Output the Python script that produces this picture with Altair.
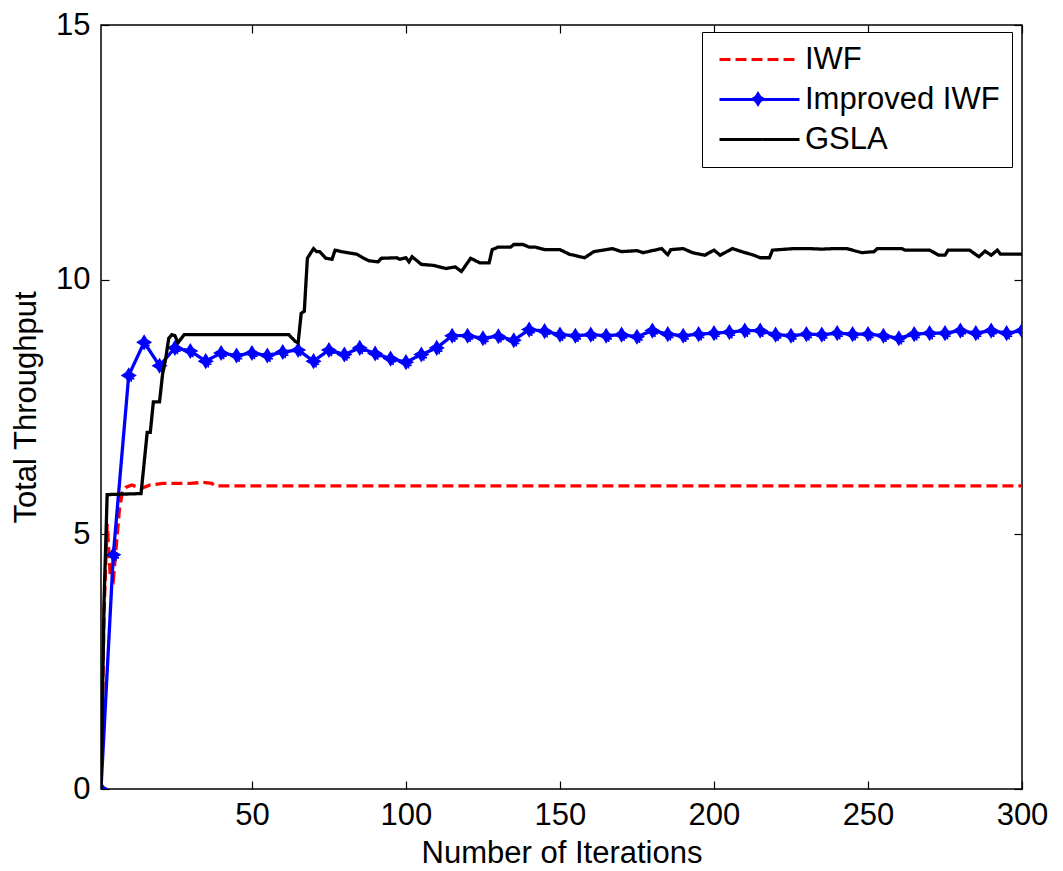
import altair as alt
import pandas as pd

# ---------------- data ----------------
names = ["IWF", "Improved IWF", "GSLA"]

iwf_x = [1, 2, 3, 4, 5, 6, 7, 8, 9, 11, 14, 17, 21, 30, 34, 37, 38, 300]
iwf_y = [0, 3.5, 5.2, 4.2, 4.1, 4.8, 5.5, 5.85, 5.92, 5.97, 5.9, 5.97, 6.0, 6.0,
         6.02, 6.0, 5.95, 5.95]

imp_x = [1, 5, 10, 15, 20, 25, 30, 35, 40, 45, 50, 55, 60, 65, 70, 75, 80, 85, 90,
         95, 100, 105, 110, 115, 120, 125, 130, 135, 140, 145, 150, 155, 160, 165,
         170, 175, 180, 185, 190, 195, 200, 205, 210, 215, 220, 225, 230, 235, 240,
         245, 250, 255, 260, 265, 270, 275, 280, 285, 290, 295, 300]
imp_y = [0, 4.6, 8.12, 8.77, 8.31, 8.66, 8.6, 8.40, 8.56, 8.51, 8.56, 8.51, 8.58,
         8.62, 8.40, 8.62, 8.53, 8.66, 8.55, 8.45, 8.38, 8.53, 8.66, 8.9, 8.9, 8.85,
         8.89, 8.81, 9.02, 8.99, 8.92, 8.9, 8.92, 8.9, 8.92, 8.88, 9.0, 8.93, 8.9,
         8.93, 8.95, 8.97, 9.0, 9.0, 8.92, 8.9, 8.93, 8.92, 8.95, 8.93, 8.93, 8.9,
         8.85, 8.93, 8.95, 8.95, 9.0, 8.95, 9.0, 8.95, 9.0]

gsla_x = [1, 2, 3, 14, 16, 17, 18, 20, 21, 22, 23, 24, 25, 26, 28, 62, 64, 65, 66,
          67, 68, 70, 71, 72, 74, 76, 77, 79, 84, 86, 88, 91, 92, 97, 98, 100, 101,
          102, 105, 109, 113, 116, 118, 121, 124, 127, 128, 130, 134, 135, 138, 140,
          142, 145, 150, 153, 158, 161, 167, 170, 175, 177, 183, 185, 186, 190, 193,
          197, 200, 202, 206, 209, 213, 215, 218, 219, 226, 231, 235, 239, 243, 248,
          252, 253, 261, 262, 270, 273, 275, 276, 283, 286, 288, 290, 292, 293, 300]
gsla_y = [0, 3.7, 5.78, 5.8, 7.0, 7.0, 7.6, 7.6, 8.15, 8.45, 8.85, 8.92, 8.9, 8.76,
          8.92, 8.92, 8.79, 8.76, 9.34, 9.38, 10.42, 10.61, 10.55, 10.55, 10.42,
          10.40, 10.58, 10.55, 10.50, 10.43, 10.37, 10.35, 10.42, 10.43, 10.40,
          10.43, 10.35, 10.45, 10.30, 10.28, 10.22, 10.25, 10.16, 10.42, 10.33,
          10.33, 10.59, 10.64, 10.64, 10.69, 10.69, 10.64, 10.64, 10.59, 10.59,
          10.50, 10.43, 10.55, 10.61, 10.55, 10.57, 10.53, 10.61, 10.49, 10.59,
          10.61, 10.53, 10.48, 10.58, 10.48, 10.61, 10.55, 10.48, 10.43, 10.43,
          10.58, 10.61, 10.61, 10.60, 10.61, 10.61, 10.53, 10.55, 10.61, 10.61,
          10.58, 10.58, 10.48, 10.48, 10.58, 10.58, 10.45, 10.56, 10.48, 10.58,
          10.50, 10.50]

x_ticks = [50, 100, 150, 200, 250, 300]
y_ticks = [0, 5, 10, 15]

colors = ["#ff0000", "#0000ff", "#000000"]
dashes = [[11, 5], [1, 0], [1, 0]]
star = "M0,-1L0.38,-0.38L1,0L0.38,0.38L0,1L-0.38,0.38L-1,0L-0.38,-0.38Z"
plus_mark = "M-0.1,0.5H0.9M0.4,0V1"
legend_line = "M-1,0H7"

# ---------------- table ----------------
rows = []
for nm, xs_, ys_ in [("IWF", iwf_x, iwf_y), ("Improved IWF", imp_x, imp_y), ("GSLA", gsla_x, gsla_y)]:
    for i, (a, b) in enumerate(zip(xs_, ys_)):
        rows.append({"x": a, "y": b, "series": nm, "i": i, "mk": nm})
df = pd.DataFrame(rows)

FONT = "Liberation Sans"
FS = 31
xs = alt.Scale(domain=[1, 300], nice=False, zero=False)
ys = alt.Scale(domain=[0, 15], nice=False, zero=False)

leg1 = alt.Legend(title=None, orient="none", legendX=601, legendY=7,
                  strokeColor="black", fillColor="white", padding=12,
                  labelFont=FONT, labelFontSize=FS, labelColor="black",
                  symbolType=legend_line, symbolSize=400, symbolStrokeWidth=3,
                  labelOffset=60, rowPadding=8, labelLimit=500, cornerRadius=0,
                  zindex=1)
leg2 = alt.Legend(title=None, orient="none", legendX=648, legendY=65, padding=0,
                  symbolSize=260, symbolFillColor="#0000ff", symbolStrokeColor="#0000ff",
                  symbolStrokeWidth=1, labelExpr="''", labelFontSize=1, zindex=2)

color_enc = alt.Color("series:N", scale=alt.Scale(domain=names, range=colors), legend=leg1)
dash_enc = alt.StrokeDash("series:N", scale=alt.Scale(domain=names, range=dashes), legend=leg1)

base = alt.Chart(df)


def line_layer(nm):
    return base.transform_filter(alt.datum.series == nm).mark_line(
        strokeWidth=3.3, clip=True).encode(
        x=alt.X("x:Q", scale=xs, axis=None),
        y=alt.Y("y:Q", scale=ys, axis=None),
        color=color_enc, strokeDash=dash_enc, order="i:Q")


red = line_layer("IWF")
blue = line_layer("Improved IWF")
black = line_layer("GSLA")
blue_rows = base.transform_filter(alt.datum.series == "Improved IWF")
pts = blue_rows.mark_point(
    filled=True, color="#0000ff", opacity=1, size=260, clip=True).encode(
    x=alt.X("x:Q", scale=xs, axis=None),
    y=alt.Y("y:Q", scale=ys, axis=None),
    shape=alt.Shape("mk:N", scale=alt.Scale(domain=["Improved IWF"], range=[star]), legend=leg2))
plus = blue_rows.mark_point(
    filled=False, color="#0000ff", opacity=1, size=160, strokeWidth=1.6, clip=True,
    shape=plus_mark).encode(
    x=alt.X("x:Q", scale=xs, axis=None),
    y=alt.Y("y:Q", scale=ys, axis=None))

data_layers = alt.layer(red, blue, plus, pts, black)

# axis with labels and titles (no ticks)
label_axes = base.mark_point(opacity=0).encode(
    x=alt.X("x:Q", scale=xs, axis=alt.Axis(orient="bottom", values=x_ticks, ticks=False, domain=False,
                                            grid=False, title="Number of Iterations", labelFlush=False,
                                            labelPadding=11, titlePadding=8)),
    y=alt.Y("y:Q", scale=ys, axis=alt.Axis(orient="left", values=y_ticks, ticks=False, domain=False,
                                            grid=False, title="Total Throughput", labelFlush=False,
                                            labelPadding=11, titlePadding=13)))


def tick_axis(orient_x, orient_y):
    return base.mark_point(opacity=0).encode(
        x=alt.X("x:Q", scale=xs, axis=alt.Axis(orient=orient_x, offset=-8, values=x_ticks,
                                                labels=False, title=None, ticks=True, tickSize=8,
                                                tickColor="black", tickWidth=1.2, domain=False, grid=False)),
        y=alt.Y("y:Q", scale=ys, axis=alt.Axis(orient=orient_y, offset=-8, values=y_ticks,
                                                labels=False, title=None, ticks=True, tickSize=8,
                                                tickColor="black", tickWidth=1.2, domain=False, grid=False)))


chart = alt.layer(data_layers, label_axes, tick_axis("bottom", "left"), tick_axis("top", "right")).resolve_scale(
    x="independent", y="independent").properties(
    width=921, height=764,
    padding={"left": 93, "top": 17, "right": 30, "bottom": 80},
    autosize="none", background="white"
).configure_view(stroke="black", strokeWidth=1.5).configure_axis(
    labelFont=FONT, titleFont=FONT, labelFontSize=FS, titleFontSize=FS,
    titleFontWeight="normal", labelColor="black", titleColor="black"
)

chart.save("out.html", embed_options={"renderer": "svg", "actions": False})
